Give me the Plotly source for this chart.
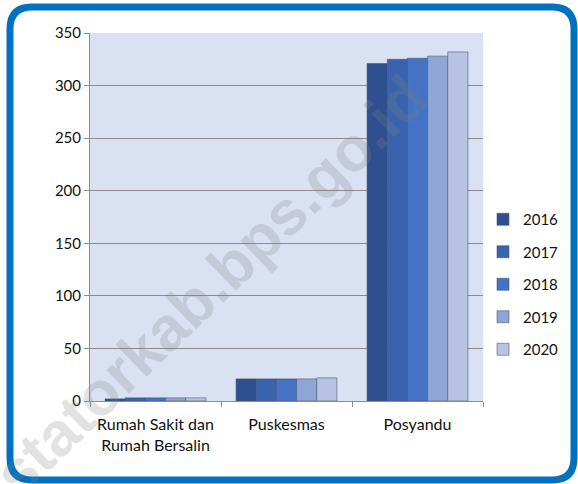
import plotly.graph_objects as go

categories = ["Rumah Sakit dan<br>Rumah Bersalin", "Puskesmas", "Posyandu"]
years = ["2016", "2017", "2018", "2019", "2020"]
values = {
    "2016": [2, 21, 321],
    "2017": [3, 21, 325],
    "2018": [3, 21, 326],
    "2019": [3, 21, 328],
    "2020": [3, 22, 332],
}
colors = ["#2E5090", "#3A63AE", "#4472C4", "#8FA5D6", "#B8C3E3"]
y_ticks = [0, 50, 100, 150, 200, 250, 300, 350]

W, H = 578, 484
L, R, T, B = 90, 483, 33, 401


def px(x):
    return (x - L) / (R - L)


def py(y):
    return (B - y) / (B - T)


fig = go.Figure()
for yr, c in zip(years, colors):
    fig.add_trace(go.Bar(
        x=categories, y=values[yr], name=yr, legendgroup=yr,
        marker=dict(color=c, line=dict(color="rgba(70,80,110,0.55)", width=1)),
    ))

# rounded blue frame
l, t, r, b, rad = 10, 7, 574, 480, 22
path = (
    f"M {px(l+rad)},{py(t)} L {px(r-rad)},{py(t)} Q {px(r)},{py(t)} {px(r)},{py(t+rad)} "
    f"L {px(r)},{py(b-rad)} Q {px(r)},{py(b)} {px(r-rad)},{py(b)} "
    f"L {px(l+rad)},{py(b)} Q {px(l)},{py(b)} {px(l)},{py(b-rad)} "
    f"L {px(l)},{py(t+rad)} Q {px(l)},{py(t)} {px(l+rad)},{py(t)} Z"
)
fig.add_shape(type="path", path=path, xref="paper", yref="paper",
              line=dict(color="#0070C0", width=7), layer="above")

fig.add_annotation(
    text="<b>statorkab.bps.go.id</b>", x=px(210), y=py(285), xref="paper", yref="paper",
    showarrow=False, textangle=-44, xanchor="center", yanchor="middle",
    font=dict(family="Liberation Sans", size=62, color="rgba(128,128,128,0.23)"),
)

fig.update_layout(
    width=W, height=H,
    margin=dict(l=L, r=W - R, t=T, b=H - B),
    paper_bgcolor="white", plot_bgcolor="#D9E2F3",
    barmode="group", bargap=0.23, bargroupgap=0,
    font=dict(family="Lato", size=15, color="#111"),
    legend=dict(x=1.0, xanchor="left", y=py(203), yanchor="top",
                tracegroupgap=10, font=dict(size=15),
                bgcolor="rgba(0,0,0,0)"),
    showlegend=True,
)
fig.update_xaxes(
    showline=True, linecolor="#8C8C8C", linewidth=1,
    ticks="outside", tickson="boundaries", ticklen=5, tickcolor="#8C8C8C",
    showgrid=False, tickfont=dict(size=16), ticklabelstandoff=9,
)
fig.update_yaxes(
    range=[0, 350], tickvals=y_ticks, showline=True, linecolor="#8C8C8C",
    linewidth=1, ticks="outside", ticklen=5, tickcolor="#8C8C8C",
    showgrid=True, gridcolor="#8C8C8C", gridwidth=1, zeroline=False,
    tickfont=dict(size=15),
)

fig.write_html("out.html", config={"displayModeBar": False},
               post_script="document.body.style.margin='0';")
